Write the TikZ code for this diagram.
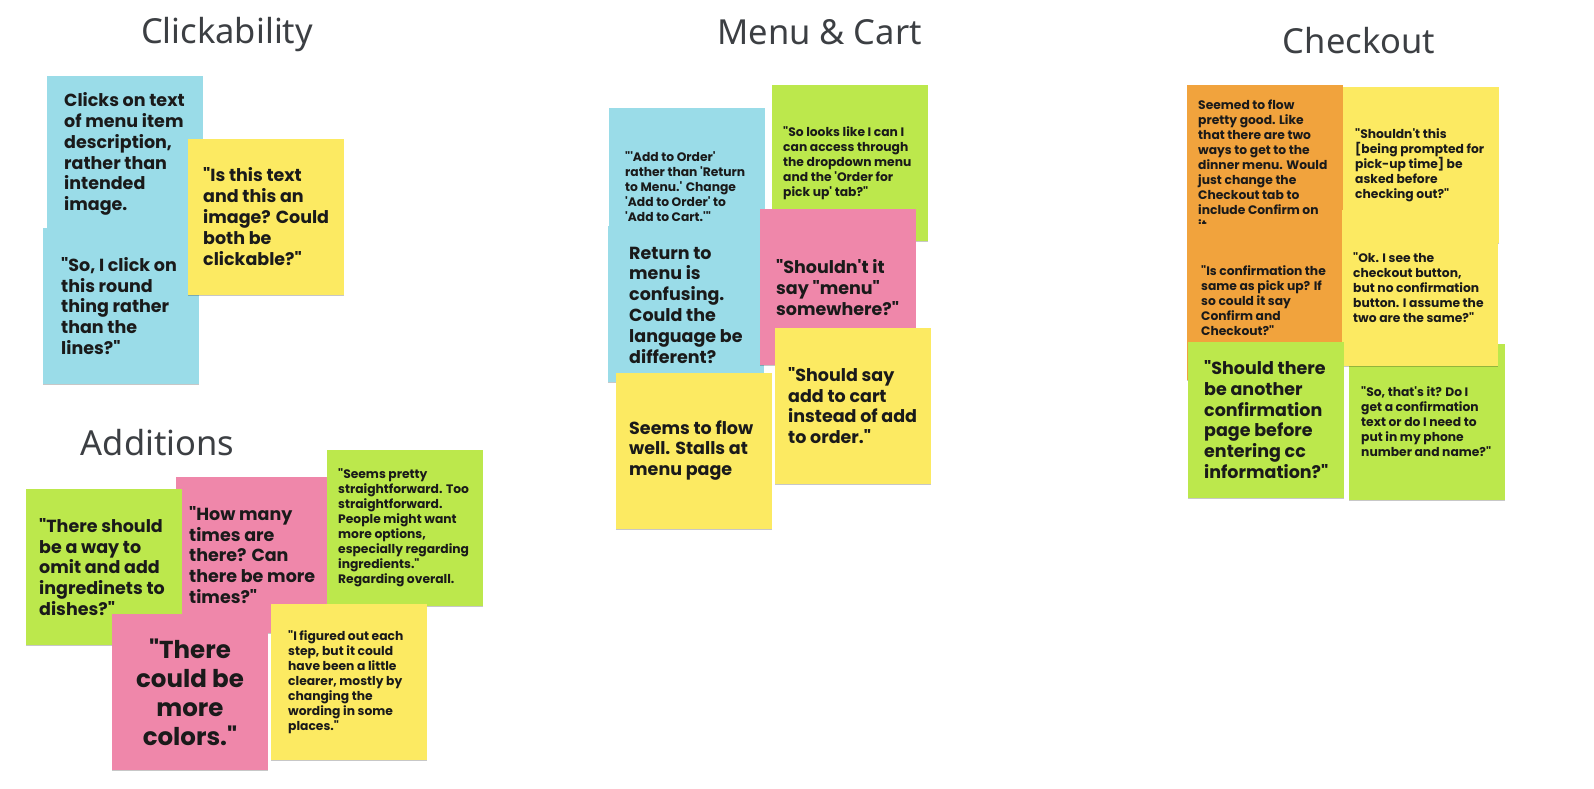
\documentclass[tikz,border=0pt]{standalone}
\usepackage{fontspec}
\newfontfamily\stickyfont{Poppins}
\newfontfamily\titlefont{Noto Sans}
\usetikzlibrary{shadows}
\definecolor{cblue}{RGB}{154,220,232}
\definecolor{cyellow}{RGB}{252,234,98}
\definecolor{cgreen}{RGB}{188,232,76}
\definecolor{cpink}{RGB}{239,135,170}
\definecolor{corange}{RGB}{241,163,61}
\definecolor{ctitle}{RGB}{60,63,67}
\definecolor{ctext}{RGB}{26,26,26}
\tikzset{
  note/.style={draw=none, minimum width=156pt, minimum height=156pt, inner sep=0pt,
    drop shadow={shadow xshift=0.4pt, shadow yshift=-1.4pt, opacity=0.22, fill=black}},
  txt/.style={inner sep=0pt, align=left, anchor=west, text=ctext},
  big/.style={txt, font=\stickyfont\bfseries\fontsize{17.5}{20.8}\selectfont},
  small/.style={txt, font=\stickyfont\bfseries\fontsize{12.3}{15}\selectfont},
  title/.style={inner sep=0pt, anchor=base, text=ctitle, font=\titlefont\fontsize{34.5}{40}\selectfont}
}
\begin{document}
\begin{tikzpicture}[x=1pt,y=-1pt]
\useasboundingbox (0,0) rectangle (1594,788);
% titles
\node[title] (tclick) at (227,43) {Clickability};
\node[title] (tmenu) at (819.5,44) {Menu \& Cart};
\node[title] (tcheck) at (1359,53) {Checkout};
\node[title] (tadd) at (157.5,455) {Additions};

% Clickability
\node[note, fill=cblue] (c1) at (125,154) {};
\node[big] (c1t) at (64,154) {Clicks on text\\of menu item\\description,\\rather than\\intended\\image.};
\node[note, fill=cblue] (c2) at (121,306) {};
\node[big] (c2t) at (61,306) {"So, I click on\\this round\\thing rather\\than the\\lines?"};
\node[note, fill=cyellow] (c3) at (266,216.5) {};
\node[big] (c3t) at (203,216.5) {"Is this text\\and this an\\image? Could\\both be\\clickable?"};

% Additions
\node[note, fill=cpink] (a1) at (254,555) {};
\node[big] (a1t) at (189,555) {"How many\\times are\\there? Can\\there be more\\times?"};
\node[note, fill=cgreen] (a2) at (104,567) {};
\node[big] (a2t) at (39,567) {"There should\\be a way to\\omit and add\\ingredinets to\\dishes?"};
\node[note, fill=cgreen] (a3) at (405,528) {};
\node[small] (a3t) at (338,528) {"Seems pretty\\straightforward. Too\\straightforward.\\People might want\\more options,\\especially regarding\\ingredients."\\Regarding overall.};
\node[note, fill=cpink] (a4) at (190,692) {};
\node[inner sep=0pt, align=center, text=ctext, font=\stickyfont\bfseries\fontsize{24.5}{29}\selectfont] (a4t) at (190,692) {"There\\could be\\more\\colors."};
\node[note, fill=cyellow] (a5) at (349,682) {};
\node[small] (a5t) at (288,682) {"I figured out each\\step, but it could\\have been a little\\clearer, mostly by\\changing the\\wording in some\\places."};

% Menu & Cart
\node[note, fill=cblue] (m1) at (687,186) {};
\node[small] (m1t) at (625,187) {"'Add to Order'\\rather than 'Return\\to Menu.' Change\\'Add to Order' to\\'Add to Cart.'"};
\node[note, fill=cgreen] (m2) at (850,163) {};
\node[small] (m2t) at (783,163) {"So looks like I can I\\can access through\\the dropdown menu\\and the 'Order for\\pick up' tab?"};
\node[note, fill=cblue] (m3) at (686,304) {};
\node[big] (m3t) at (629,305) {Return to\\menu is\\confusing.\\Could the\\language be\\different?};
\node[note, fill=cpink] (m4) at (838,287) {};
\node[big] (m4t) at (776,287.5) {"Shouldn't it\\say "menu"\\somewhere?"};
\node[note, fill=cyellow] (m5) at (853,405.5) {};
\node[big] (m5t) at (788,405.5) {"Should say\\add to cart\\instead of add\\to order."};
\node[note, fill=cyellow] (m6) at (693.5,450.5) {};
\node[big] (m6t) at (629,450.5) {Seems to flow\\well. Stalls at\\menu page};

% Checkout
\node[note, fill=corange] (k1) at (1265,163) {};
\node[small, anchor=north west] (k1t) at (1198,100) {Seemed to flow\\pretty good. Like\\that there are two\\ways to get to the\\dinner menu. Would\\just change the\\Checkout tab to\\include Confirm on\\it};
\node[note, fill=cyellow] (k2) at (1421,165) {};
\node[small] (k2t) at (1355,165) {"Shouldn't this\\{[}being prompted for\\pick-up time{]} be\\asked before\\checking out?"};
\node[note, fill=corange] (k3) at (1265,302) {};
\node[small] (k3t) at (1201,301) {"Is confirmation the\\same as pick up? If\\so could it say\\Confirm and\\Checkout?"};
\node[note, fill=cgreen] (k4) at (1426.5,422) {};
\node[small] (k4t) at (1361,422) {"So, that's it? Do I\\get a confirmation\\text or do I need to\\put in my phone\\number and name?"};
\node[note, fill=cyellow] (k5) at (1420,287.5) {};
\node[small] (k5t) at (1353,288) {"Ok. I see the\\checkout button,\\but no confirmation\\button. I assume the\\two are the same?"};
\node[note, fill=cgreen] (k6) at (1266,419.5) {};
\node[big] (k6t) at (1204,419.5) {"Should there\\be another\\confirmation\\page before\\entering cc\\information?"};
\end{tikzpicture}
\end{document}
